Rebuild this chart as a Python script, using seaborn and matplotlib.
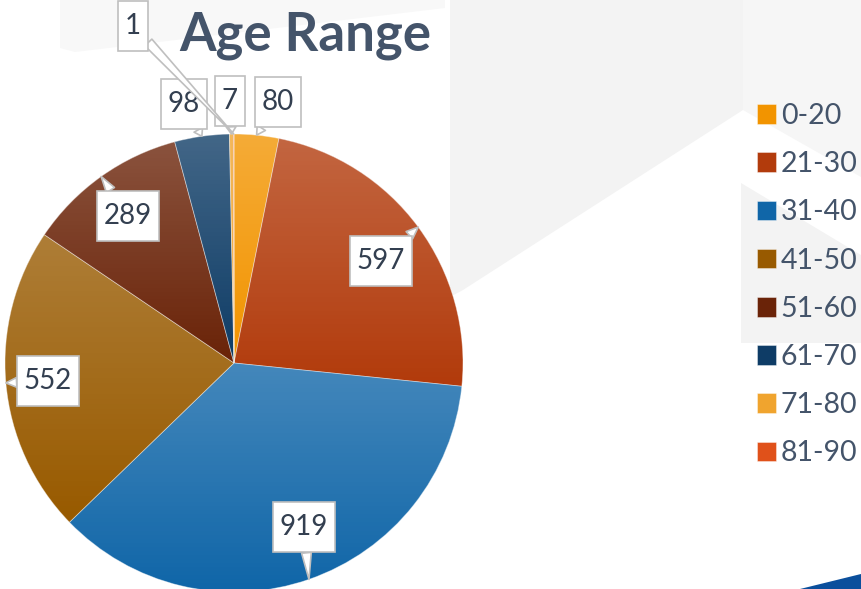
import numpy as np
import matplotlib
matplotlib.use('Agg')
import matplotlib.pyplot as plt
from matplotlib.patches import Polygon
from matplotlib.path import Path
import seaborn as sns

# --- datos ---
rangos = ['0-20', '21-30', '31-40', '41-50', '51-60', '61-70', '71-80', '81-90']
cantidades = [80, 597, 919, 552, 289, 98, 7, 1]
colores = ['#F29400', '#B23B0C', '#1066A8', '#985A00', '#6A2308', '#0E3C66', '#F0A42E', '#E0511A']

# posicion de las cajas de etiqueta (pixeles desde arriba-izquierda)
pos_etiquetas = [(278, 102), (381, 261), (304, 527), (48, 381),
                 (128, 216), (184, 104), (230, 101), (133, 26)]

W, H = 861, 589
TEXTO = '#44546A'

sns.set_theme(style='white')
plt.rcParams['font.family'] = ['Lato', 'DejaVu Sans']


def caja(x0, y0, width, height, mutation_size):
    # caja rectangular con mas relleno vertical que horizontal
    px, py = 0.24 * mutation_size, 0.44 * mutation_size
    x0, y0 = x0 - px, y0 - py
    x1, y1 = x0 + width + 2 * px, y0 + height + 2 * py
    return Path([(x0, y0), (x1, y0), (x1, y1), (x0, y1), (x0, y0)], closed=True)


fig = plt.figure(figsize=(W / 100, H / 100), dpi=100)
fig.patch.set_facecolor('white')

# --- fondo decorativo ---
bg = fig.add_axes([0, 0, 1, 1])
bg.set_xlim(0, W)
bg.set_ylim(H, 0)
bg.axis('off')
formas = [
    ([(60, 0), (445, 0), (445, 8), (75, 52), (60, 48)], '#F8F8F8'),
    ([(450, 0), (743, 0), (743, 110), (463, 290), (450, 297)], '#F3F3F3'),
    ([(743, 0), (861, 0), (861, 177), (743, 110)], '#F6F6F6'),
    ([(741, 183), (861, 255), (861, 343), (741, 343)], '#F3F3F3'),
    ([(800, 589), (861, 574), (861, 589)], '#0B4F9C'),
]
for pts, c in formas:
    bg.add_patch(Polygon(pts, closed=True, fc=c, ec='none'))

# --- pastel ---
cx, cy, r = 234, 363, 229
ax = fig.add_axes([(cx - r) / W, (H - cy - r) / H, 2 * r / W, 2 * r / H])
ax.patch.set_alpha(0)
wedges, _ = ax.pie(cantidades, colors=colores, startangle=90, counterclock=False,
                   radius=1, wedgeprops=dict(edgecolor=(1, 1, 1, 0.45), linewidth=0.6))

# degradado claro arriba de cada porcion
grad = np.zeros((256, 1, 4))
grad[..., :3] = 1.0
grad[:, 0, 3] = np.linspace(0.22, 0.0, 256)
for w in wedges:
    ext = w.get_path().get_extents(w.get_patch_transform())
    im = ax.imshow(grad, extent=[ext.x0, ext.x1, ext.y0, ext.y1], origin='upper',
                   aspect='auto', zorder=w.get_zorder() + 0.1, interpolation='bilinear')
    im.set_clip_path(w)

ax.set_xlim(-1, 1)
ax.set_ylim(-1, 1)
ax.axis('off')

# --- etiquetas tipo globo ---
for w, val, (px, py) in zip(wedges, cantidades, pos_etiquetas):
    ang = np.deg2rad((w.theta1 + w.theta2) / 2)
    punta = (np.cos(ang), np.sin(ang))
    ax.annotate(str(val), xy=punta, xycoords='data',
                xytext=(px, H - py), textcoords='figure pixels',
                ha='center', va='center', fontsize=20, color='#333F50',
                annotation_clip=False, zorder=10,
                bbox=dict(boxstyle=caja, fc='white', ec='#BFBFBF', lw=1.2),
                arrowprops=dict(arrowstyle='wedge,tail_width=0.35', fc='white',
                                ec='#BFBFBF', lw=1.2, shrinkA=0, shrinkB=0))

# --- titulo ---
fig.text(305 / W, 1 - 35 / H, 'Age Range', ha='center', va='center',
         fontsize=38, fontweight='bold', color=TEXTO)

# --- leyenda ---
leg = fig.legend(wedges, rangos, loc='upper left', bbox_to_anchor=(757 / W, 1 - 103 / H),
                 frameon=False, fontsize=20.5, handlelength=0.68, handleheight=0.68,
                 handletextpad=0.15, labelspacing=0.78, borderpad=0, borderaxespad=0)
for t in leg.get_texts():
    t.set_color(TEXTO)

plt.savefig('out.png', dpi=100)
